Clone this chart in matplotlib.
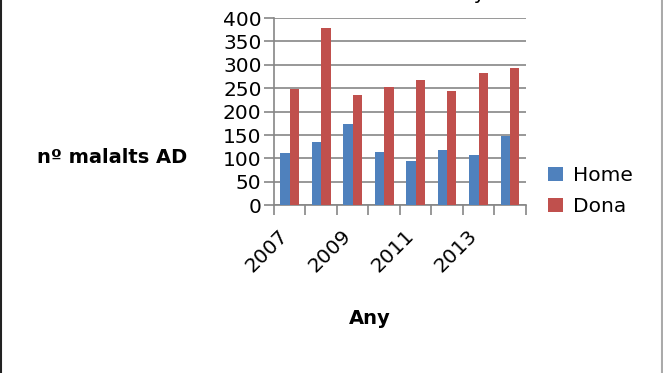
import matplotlib
matplotlib.use('Agg')
import matplotlib.pyplot as plt
import matplotlib.transforms as mtransforms
from matplotlib.lines import Line2D
import numpy as np

years = ['2007', '2008', '2009', '2010', '2011', '2012', '2013', '2014']
home = [112, 135, 174, 114, 95, 118, 108, 149]
dona = [248, 379, 236, 253, 268, 244, 283, 293]

plt.rcParams['font.family'] = ['DejaVu Sans']

grey = '#868686'
blue = '#4F81BD'
red = '#C0504D'
fs = 14.5

fig = plt.figure(figsize=(6.63, 3.73), dpi=100)
ax = fig.add_axes([0.4133, 0.4496, 0.3796, 0.5021])

x = np.arange(len(years))
w = 0.3
ax.bar(x - w / 2, home, w, color=blue, label='Home', zorder=3)
ax.bar(x + w / 2, dona, w, color=red, label='Dona', zorder=3)

ax.set_xlim(-0.5, len(years) - 0.5)
ax.set_ylim(0, 400)
ax.set_yticks(np.arange(0, 401, 50))
ax.yaxis.grid(True, color=grey, linewidth=1.2, zorder=0)

# ticks on category boundaries, labels on every second category
ax.set_xticks(np.arange(-0.5, len(years), 1.0))
ax.set_xticklabels([])
ax.set_xticks(x[::2], minor=True)
ax.set_xticklabels(years[::2], minor=True, rotation=45, ha='right', va='center',
                   rotation_mode='anchor')
ax.tick_params(axis='x', which='minor', length=0, pad=20, labelsize=fs)
ax.tick_params(axis='x', which='major', length=7, width=1.2, color=grey)
ax.tick_params(axis='y', length=7, width=1.2, color=grey, labelsize=fs, pad=2)
shift = mtransforms.ScaledTranslation(-0.045, 0, fig.dpi_scale_trans)
for lab in ax.get_xticklabels(minor=True):
    lab.set_transform(lab.get_transform() + shift)

for s in ['top', 'right']:
    ax.spines[s].set_visible(False)
for s in ['left', 'bottom']:
    ax.spines[s].set_color(grey)
    ax.spines[s].set_linewidth(1.2)

fig.text(187 / 663, 1 - 163.5 / 373, 'nº malalts AD', ha='right', va='baseline',
         fontsize=14, fontweight='bold')
fig.text(370 / 663, 1 - 323.5 / 373, 'Any', ha='center', va='baseline',
         fontsize=14, fontweight='bold')
fig.text(486 / 663, 1.004, 'Any', ha='right', va='baseline', fontsize=fs)

ax.legend(loc='center left', bbox_to_anchor=(1.089, 0.076), frameon=False,
          fontsize=fs, handlelength=0.75, handleheight=0.75, handletextpad=0.5,
          labelspacing=0.6, borderaxespad=0, borderpad=0)

fig.add_artist(Line2D([0.0015, 0.0015], [0, 1], color='#222222', linewidth=1.5))
fig.add_artist(Line2D([0.9985, 0.9985], [0, 1], color='#aaaaaa', linewidth=1.5))

fig.savefig('out.png', dpi=100)
